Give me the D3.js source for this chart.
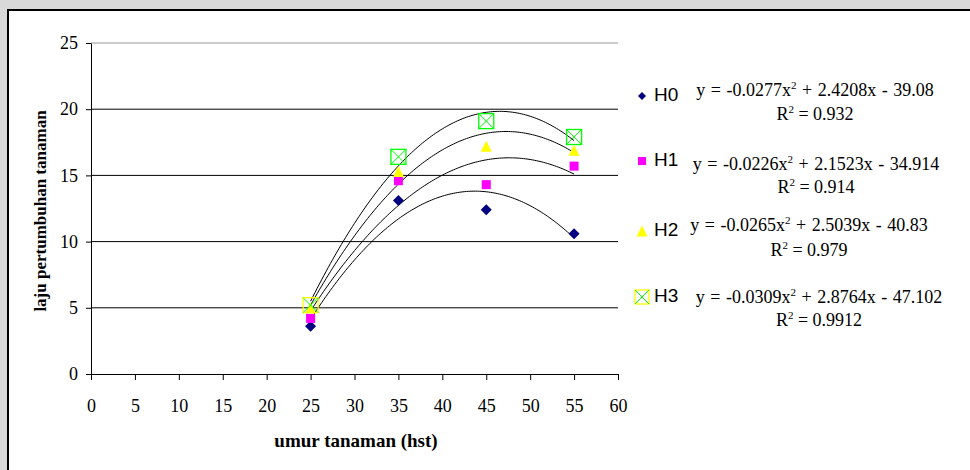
<!DOCTYPE html>
<html>
<head>
<meta charset="utf-8">
<script src="https://cdn.jsdelivr.net/npm/d3@7"></script>
<style>
body { margin: 0; background: #d9d9d9; }
svg { display: block; }
</style>
</head>
<body>
<script>
const umur = [25, 35, 45, 55];
const seriesNames = ["H0", "H1", "H2", "H3"];
const h0 = [3.6, 13.1, 12.4, 10.6];
const h1 = [4.2, 14.6, 14.3, 15.7];
const h2 = [5.0, 15.3, 17.2, 16.9];
const h3 = [5.2, 16.4, 19.1, 17.9];
// polynomial trendline y = a x^2 + b x + c, as printed on the chart
const coefA = [-0.0277, -0.0226, -0.0265, -0.0309];
const coefB = [2.4208, 2.1523, 2.5039, 2.8764];
const coefC = [-39.08, -34.914, -40.83, -47.102];
const rSquared = ["0.932", "0.914", "0.979", "0.9912"];
const xTicks = [0, 5, 10, 15, 20, 25, 30, 35, 40, 45, 50, 55, 60];
const yTicks = [0, 5, 10, 15, 20, 25];

const values = [h0, h1, h2, h3];
const colors = ["#000080", "#ff00ff", "#ffff00", "#00ff00"];

// legend / label layout
const legY = [96, 161, 231, 297];
const eqX = [815, 816, 809, 819];
const eqY = [90, 164, 225, 297];
const r2Y = [114, 187, 250, 320];

var W = 970, H = 470;
var serif = "'Liberation Serif', 'Times New Roman', serif";
var sans = "'Liberation Sans', Arial, sans-serif";

var svg = d3.select("body").append("svg")
    .attr("width", W)
    .attr("height", H);

svg.append("rect").attr("width", W).attr("height", H).attr("fill", "#d9d9d9");
svg.append("rect")
    .attr("x", 8).attr("y", 10)
    .attr("width", W + 10).attr("height", H + 10)
    .attr("fill", "white")
    .attr("stroke", "black")
    .attr("stroke-width", 2);

var x = d3.scaleLinear().domain([0, 60]).range([91, 618]);
var y = d3.scaleLinear().domain([0, 25]).range([374, 43]);

svg.append("g").selectAll("line")
    .data(yTicks.filter(d => d > 0))
    .enter().append("line")
    .attr("x1", x(0)).attr("x2", x(60))
    .attr("y1", d => y(d)).attr("y2", d => y(d))
    .attr("stroke", d => d === 25 ? "#999" : "#000")
    .attr("stroke-width", 1);

var yAxis = svg.append("g")
    .attr("transform", "translate(" + x(0) + ",0)")
    .call(d3.axisLeft(y).tickValues(yTicks).tickSize(5).tickSizeOuter(0).tickPadding(8));

var xAxis = svg.append("g")
    .attr("transform", "translate(0," + y(0) + ")")
    .call(d3.axisBottom(x).tickValues(xTicks).tickSize(6).tickSizeOuter(0).tickPadding(19));

[yAxis, xAxis].forEach(function (g) {
    g.selectAll("path, line").attr("stroke", "#000");
    g.selectAll("text")
        .attr("fill", "#000")
        .style("font-family", serif)
        .style("font-size", "18px");
});

svg.append("text")
    .attr("transform", "translate(46,211) rotate(-90)")
    .attr("text-anchor", "middle")
    .style("font-family", serif)
    .style("font-size", "17px")
    .style("font-weight", "bold")
    .text("laju pertumbuhan tanaman");

svg.append("text")
    .attr("x", 356).attr("y", 447)
    .attr("text-anchor", "middle")
    .style("font-family", serif)
    .style("font-size", "19px")
    .style("font-weight", "bold")
    .text("umur tanaman (hst)");

// trendlines
var line = d3.line()
    .x(d => x(d[0]))
    .y(d => y(d[1]));

coefA.forEach(function (a, i) {
    var pts = d3.range(umur[0], umur[umur.length - 1] + 0.01, 0.25)
        .map(t => [t, a * t * t + coefB[i] * t + coefC[i]]);
    svg.append("path")
        .attr("d", line(pts))
        .attr("fill", "none")
        .attr("stroke", "#000")
        .attr("stroke-width", 1);
});

function drawMarker(g, i, size, stroke) {
    if (i === 0) {
        g.append("path")
            .attr("d", d3.symbol(d3.symbolSquare, size * size / 2)())
            .attr("transform", "rotate(45)")
            .attr("fill", colors[0]);
    } else if (i === 1) {
        g.append("rect")
            .attr("x", -size / 2).attr("y", -size / 2)
            .attr("width", size).attr("height", size)
            .attr("fill", colors[1]);
    } else if (i === 2) {
        g.append("path")
            .attr("d", "M0," + (-size / 2) + "L" + (size / 2) + "," + (size / 2) + "L" + (-size / 2) + "," + (size / 2) + "Z")
            .attr("fill", colors[2]);
    } else {
        var s = size / 2;
        g.append("rect")
            .attr("x", -s).attr("y", -s)
            .attr("width", size).attr("height", size)
            .attr("fill", "none")
            .attr("stroke", stroke || colors[3])
            .attr("stroke-width", 1.3);
        g.append("path")
            .attr("d", "M" + (-s) + "," + (-s) + "L" + s + "," + s + "M" + s + "," + (-s) + "L" + (-s) + "," + s)
            .attr("stroke", colors[3])
            .attr("stroke-width", 1);
    }
}

var markerSize = [11, 9, 11, 15];
values.forEach(function (vals, i) {
    vals.forEach(function (v, j) {
        var g = svg.append("g").attr("transform", "translate(" + x(umur[j]) + "," + y(v) + ")");
        drawMarker(g, i, markerSize[i], i === 3 && j === 0 ? "#ffff00" : null);
    });
});

// legend
var legSize = [8, 8, 11, 14];
seriesNames.forEach(function (name, i) {
    var g = svg.append("g").attr("transform", "translate(642," + legY[i] + ")");
    drawMarker(g, i, legSize[i], i === 3 ? "#ffff00" : null);
    svg.append("text")
        .attr("x", 654).attr("y", legY[i] + 5)
        .style("font-family", sans)
        .style("font-size", "19px")
        .text(name);
});

// trendline labels
coefA.forEach(function (a, i) {
    var t = svg.append("text")
        .attr("x", eqX[i]).attr("y", eqY[i] + 6)
        .attr("text-anchor", "middle")
        .style("font-family", serif)
        .style("font-size", "18px")
        .style("word-spacing", "1px");
    t.append("tspan").text("y = " + a + "x");
    t.append("tspan").attr("dy", -7).style("font-size", "11px").text("2");
    t.append("tspan").attr("dy", 7).text(" + " + coefB[i] + "x - " + Math.abs(coefC[i]));

    var r = svg.append("text")
        .attr("x", eqX[i]).attr("y", r2Y[i] + 6)
        .attr("text-anchor", "middle")
        .style("font-family", serif)
        .style("font-size", "18px");
    r.append("tspan").text("R");
    r.append("tspan").attr("dy", -7).style("font-size", "11px").text("2");
    r.append("tspan").attr("dy", 7).text(" = " + rSquared[i]);
});
</script>
</body>
</html>
